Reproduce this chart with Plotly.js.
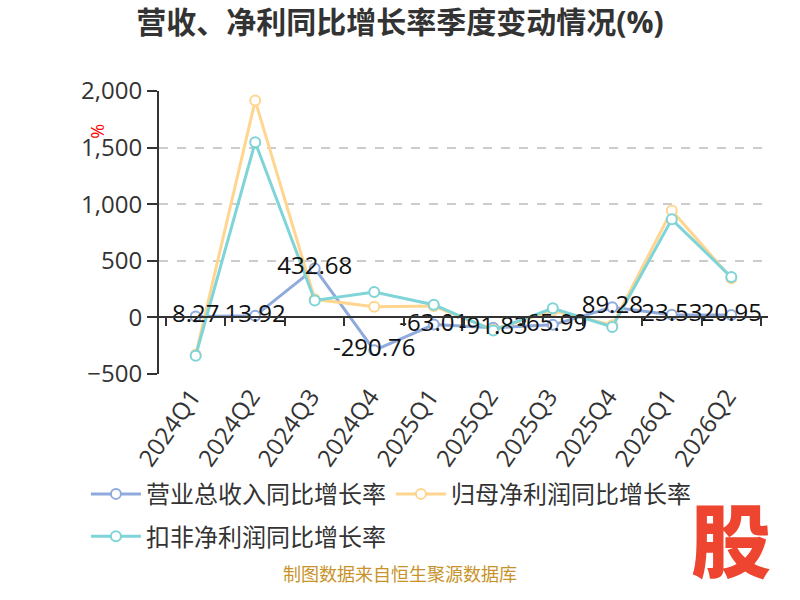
<!DOCTYPE html>
<html>
<head>
<meta charset="utf-8">
<script src="https://cdn.plot.ly/plotly-3.0.1.min.js"></script>
<style>
  body { margin: 0; background: #fff; }
  #mainPlot { width: 800px; height: 600px; }
</style>
</head>
<body>
<div id="mainPlot"></div>
<script>
// Quarters on the x axis
const quarters = ['2024Q1','2024Q2','2024Q3','2024Q4','2025Q1','2025Q2','2025Q3','2025Q4','2026Q1','2026Q2'];

// YoY growth rates (%)
const revenueGrowth = [8.27, 13.92, 432.68, -290.76, -63.01, -91.83, -65.99, 89.28, 23.53, 20.95];
const netProfitGrowth = [-330, 1915, 160, 95, 100, -110, 60, -70, 945, 345];
const deductedProfitGrowth = [-338, 1548, 150, 224, 112, -115, 80, -85, 866, 356];

// Labels shown on the revenue line
const revenueLabels = ['8.27','13.92','432.68','-290.76','-63.01','-91.83','-65.99','89.28','23.53','20.95'];

const names = ['营业总收入同比增长率', '归母净利润同比增长率', '扣非净利润同比增长率'];

const fontFamily = "'Open Sans', 'Noto Sans CJK SC', sans-serif";

// helper for one line series
function makeLine(yValues, name, color, legendId) {
  return {
    x: quarters,
    y: yValues,
    name: name,
    type: 'scatter',
    mode: 'lines+markers',
    line: {color: color, width: 3},
    marker: {symbol: 'circle', size: 10, color: '#fff', line: {color: color, width: 2}},
    legend: legendId,
    hoverinfo: 'skip'
  };
}

let revenue = makeLine(revenueGrowth, names[0], '#8FAADC', 'legend');
let netProfit = makeLine(netProfitGrowth, names[1], '#FFD58F', 'legend');
let deducted = makeLine(deductedProfitGrowth, names[2], '#7FD4D8', 'legend2');

// value labels drawn on top of all lines
let labels = {
  x: quarters,
  y: revenueGrowth,
  text: revenueLabels,
  type: 'scatter',
  mode: 'text',
  textposition: 'middle center',
  textfont: {family: fontFamily, size: 24, color: '#111'},
  showlegend: false,
  hoverinfo: 'skip'
};

// empty trace so the zero-line axis (x2) gets drawn
let zeroAxis = {
  x: quarters,
  y: quarters.map(() => null),
  xaxis: 'x2',
  type: 'scatter',
  mode: 'lines',
  showlegend: false,
  hoverinfo: 'skip'
};

let data = [revenue, netProfit, deducted, labels, zeroAxis];

var layout = {
  width: 800,
  height: 600,
  margin: {l: 159, r: 32, t: 91, b: 226},
  paper_bgcolor: '#fff',
  plot_bgcolor: '#fff',
  font: {family: fontFamily, color: '#333'},
  title: {
    text: '营收、净利同比增长率季度变动情况(%)',
    font: {size: 30, color: '#333', weight: 'bold'},
    xref: 'container', x: 0.5,
    yref: 'container', y: 0.962, yanchor: 'middle'
  },
  xaxis: {
    type: 'category',
    showline: false,
    showgrid: false,
    zeroline: false,
    ticks: '',
    tickangle: -55,
    ticklabelstandoff: 3,
    ticklabelshift: -4,
    tickfont: {size: 24, color: '#333'}
  },
  // axis line at y = 0 with ticks between the quarters
  xaxis2: {
    type: 'category',
    overlaying: 'x',
    matches: 'x',
    anchor: 'free',
    position: 0.2,
    showline: true,
    linecolor: '#333',
    linewidth: 2,
    ticks: 'outside',
    tickson: 'boundaries',
    ticklen: 8,
    tickwidth: 2,
    tickcolor: '#333',
    showticklabels: false,
    showgrid: false,
    zeroline: false
  },
  yaxis: {
    range: [-500, 2000],
    dtick: 500,
    tickformat: ',d',
    showline: true,
    linecolor: '#333',
    linewidth: 2,
    ticks: 'outside',
    ticklen: 10,
    tickwidth: 2,
    tickcolor: '#333',
    showgrid: true,
    gridcolor: '#ccc',
    griddash: 'dash',
    gridwidth: 2,
    zeroline: false,
    tickfont: {size: 24, color: '#333'}
  },
  legend: {
    orientation: 'h',
    x: -0.12, xanchor: 'left',
    y: -0.425, yanchor: 'middle',
    font: {size: 24, color: '#333'},
    itemwidth: 50
  },
  legend2: {
    orientation: 'h',
    x: -0.12, xanchor: 'left',
    y: -0.575, yanchor: 'middle',
    font: {size: 24, color: '#333'},
    itemwidth: 50
  },
  annotations: [
    {
      // unit mark by the y axis
      text: '%', xref: 'paper', yref: 'paper', x: -0.125, y: 0.893,
      showarrow: false, textangle: -90, font: {size: 18, color: '#f00'}
    },
    {
      text: '制图数据来自恒生聚源数据库', xref: 'paper', yref: 'paper', x: 0.3957, y: -0.755,
      showarrow: false, font: {size: 18, color: '#C8932A'}
    },
    {
      text: '股', xref: 'paper', yref: 'paper', x: 1.008, y: -0.785,
      showarrow: false, font: {family: "'Noto Sans CJK SC'", size: 80, color: '#EE4530', weight: 900}
    }
  ]
};

Plotly.newPlot('mainPlot', data, layout, {staticPlot: true});
</script>
</body>
</html>
